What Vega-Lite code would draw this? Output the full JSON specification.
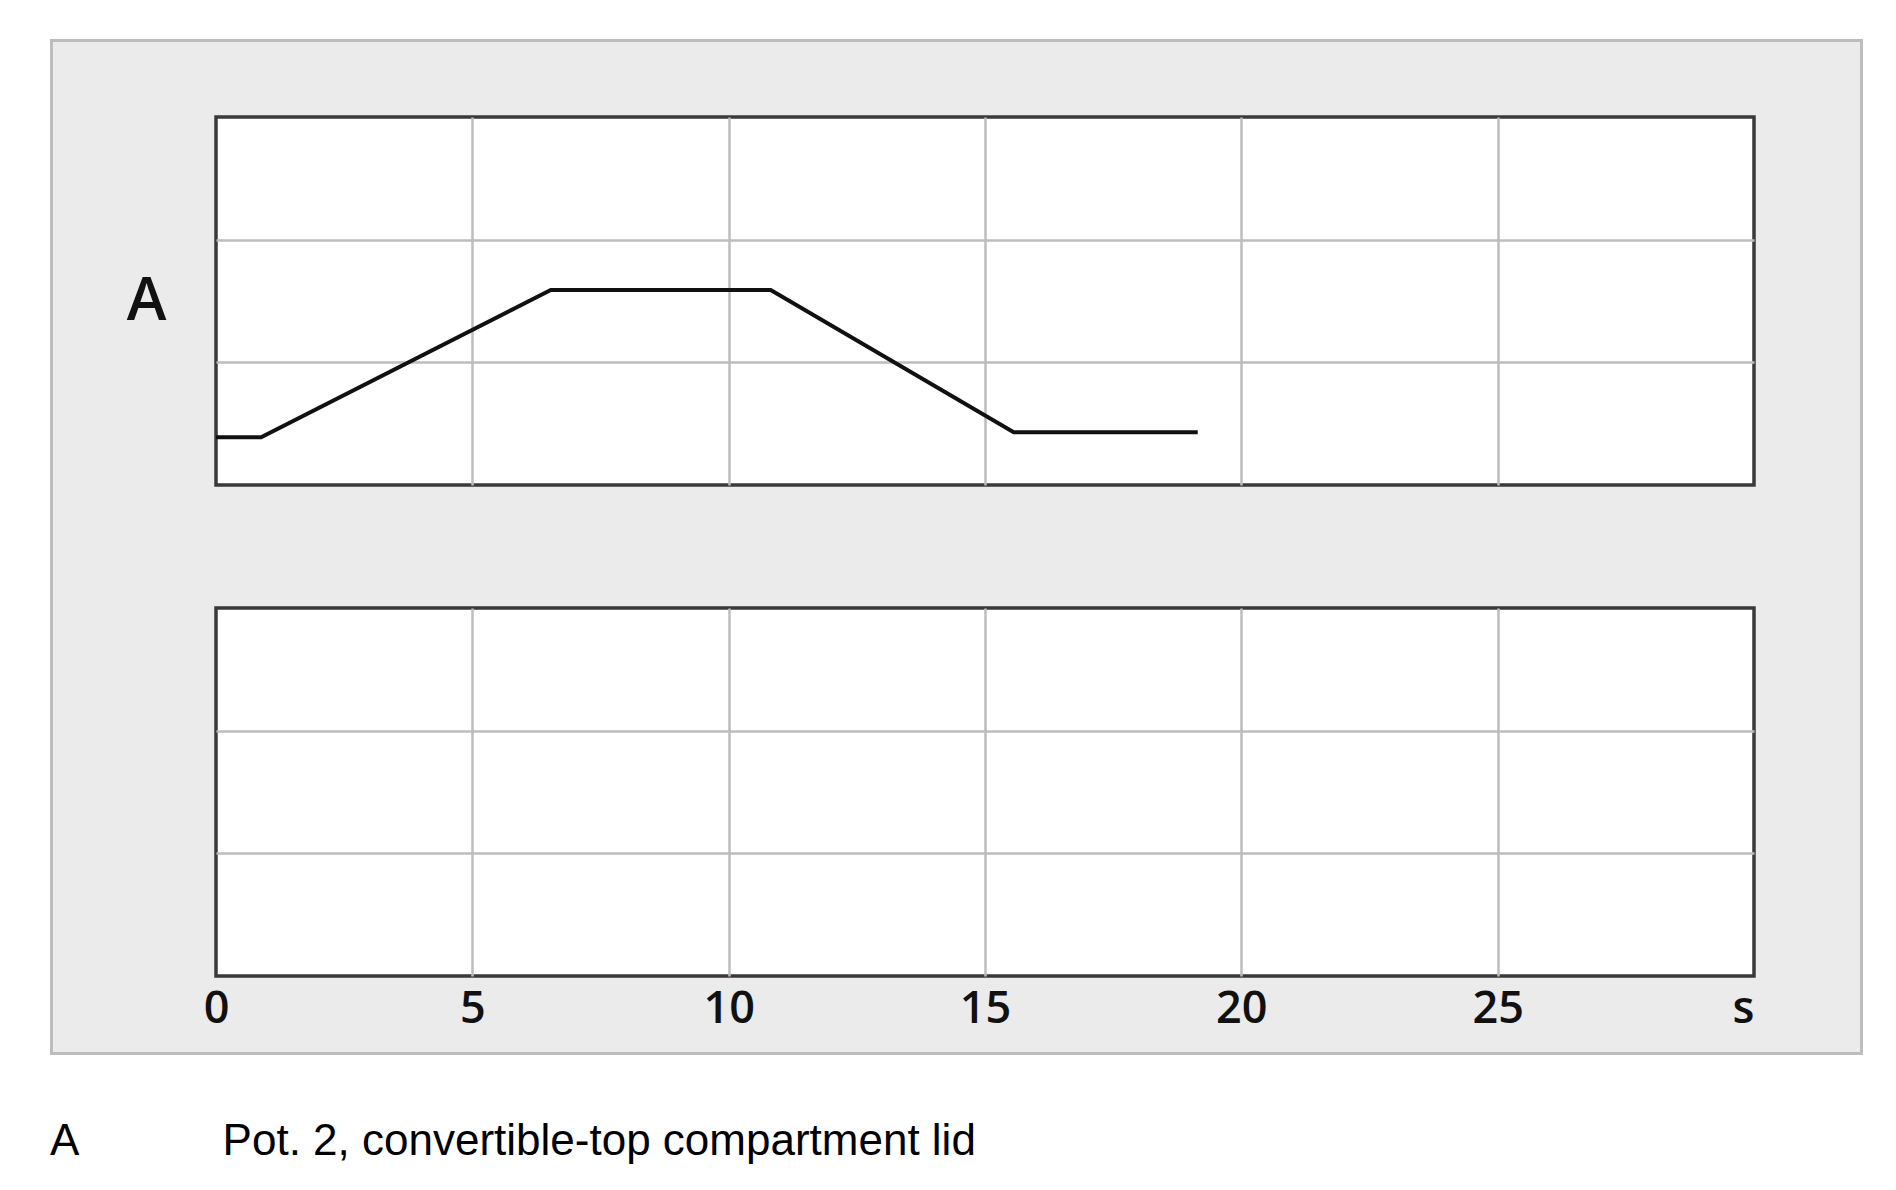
{
  "$schema": "https://vega.github.io/schema/vega-lite/v6.json",
  "background": "white",
  "padding": {"left": 49, "top": 38, "right": 34, "bottom": 10},
  "autosize": {"type": "pad"},
  "title": {
    "text": "A\u00a0\u00a0\u00a0\u00a0\u00a0\u00a0\u00a0\u00a0\u00a0\u00a0\u00a0\u2009Pot. 2, convertible-top compartment lid",
    "orient": "bottom",
    "anchor": "start",
    "frame": "bounds",
    "font": "Liberation Sans",
    "fontSize": 44,
    "fontWeight": "normal",
    "color": "#000000",
    "offset": 65,
    "baseline": "top"
  },
  "config": {
    "axis": {"domain": false, "ticks": false, "tickSize": 0, "gridColor": "#bdbdbd", "gridWidth": 2.5, "gridOpacity": 1}
  },
  "spacing": 0,
  "bounds": "flush",
  "vconcat": [
    {
      "width": 1538,
      "height": 78,
      "view": {"stroke": null, "fill": null},
      "data": {"values": [{}]},
      "mark": {"type": "rect", "fill": "#ebebeb", "stroke": "#bdbdbd", "strokeWidth": 3, "clip": false},
      "encoding": {
        "x": {"datum": -3.209, "type": "quantitative", "scale": {"domain": [0, 30], "nice": false, "zero": false}, "axis": null},
        "x2": {"datum": 32.097},
        "y": {"datum": 0.9808, "type": "quantitative", "scale": {"domain": [0, 1], "nice": false, "zero": false}, "axis": null},
        "y2": {"datum": -12.006}
      }
    },
    {
      "spacing": 123,
      "bounds": "flush",
      "vconcat": [
        {
          "width": 1538,
          "height": 368,
          "view": {"fill": "white", "stroke": "#3a3a3a", "strokeWidth": 3.5},
          "data": {"values": [
            {"t": 0, "v": 0.39},
            {"t": 0.88, "v": 0.39},
            {"t": 6.53, "v": 1.59},
            {"t": 10.82, "v": 1.59},
            {"t": 15.56, "v": 0.43},
            {"t": 19.15, "v": 0.43}
          ]},
          "mark": {"type": "line", "color": "#111111", "strokeWidth": 4},
          "encoding": {
            "x": {"field": "t", "type": "quantitative", "scale": {"domain": [0, 30], "nice": false, "zero": false},
                  "axis": {"values": [5, 10, 15, 20, 25], "labels": false, "title": null, "grid": true}},
            "y": {"field": "v", "type": "quantitative", "scale": {"domain": [0, 3], "nice": false, "zero": false},
                  "axis": {"values": [1, 2], "labels": false, "grid": true, "title": "A", "titleAngle": 0, "titleAlign": "right", "titleBaseline": "middle", "titlePadding": 50, "titleFont": "Open Sans", "titleFontSize": 60, "titleFontWeight": 600, "titleColor": "#111111"}}
          }
        },
        {
          "width": 1538,
          "height": 368,
          "view": {"fill": "white", "stroke": "#3a3a3a", "strokeWidth": 3.5},
          "data": {"values": []},
          "mark": "point",
          "encoding": {
            "x": {"field": "t", "type": "quantitative", "scale": {"domain": [0, 30], "nice": false, "zero": false},
                  "axis": {"values": [0, 5, 10, 15, 20, 25, 30], "labelExpr": "datum.value == 30 ? 's' : datum.label", "title": null, "grid": true,
                           "gridOpacity": {"condition": {"test": "datum.value == 0 || datum.value == 30", "value": 0}, "value": 1},
                           "labelAlign": {"condition": {"test": "datum.value == 30", "value": "right"}, "value": "center"},
                           "labelFont": "Open Sans", "labelFontSize": 45, "labelFontWeight": 600, "labelColor": "#111111", "labelPadding": 10, "labelFlush": false, "labelOverlap": false}},
            "y": {"field": "v", "type": "quantitative", "scale": {"domain": [0, 3], "nice": false, "zero": false},
                  "axis": {"values": [1, 2], "labels": false, "title": null, "grid": true}}
          }
        }
      ]
    }
  ]
}
